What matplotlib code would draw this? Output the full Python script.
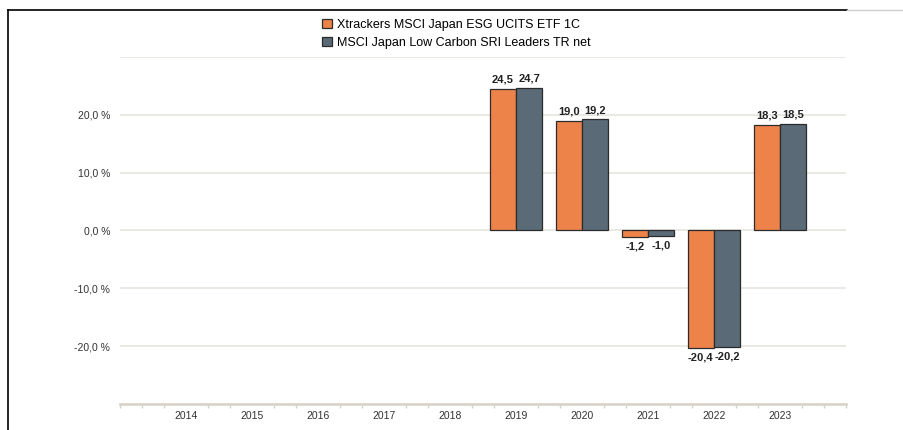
import matplotlib.pyplot as plt
import numpy as np
from matplotlib.lines import Line2D

plt.rcParams['font.family'] = ['Liberation Sans', 'DejaVu Sans']

# Дані
years = [2014, 2015, 2016, 2017, 2018, 2019, 2020, 2021, 2022, 2023]
etf = [None, None, None, None, None, 24.5, 19.0, -1.2, -20.4, 18.3]
index = [None, None, None, None, None, 24.7, 19.2, -1.0, -20.2, 18.5]
names = ['Xtrackers MSCI Japan ESG UCITS ETF 1C',
         'MSCI Japan Low Carbon SRI Leaders TR net']
colors = ['#EE834A', '#5A6A77']

fig = plt.figure(figsize=(9.04, 4.30), dpi=100)
ax = fig.add_axes([120 / 904, 1 - 404 / 430, 726 / 904, 347 / 430])

w = 0.4
for k, (vals, col, name) in enumerate(zip([etf, index], colors, names)):
    xs = [y + (k - 0.5) * w for y, v in zip(years, vals) if v is not None]
    vs = [v for v in vals if v is not None]
    ax.bar(xs, vs, width=w, color=col, edgecolor='#2b2b2b', linewidth=0.9,
           label=name, zorder=3)
    for x, v in zip(xs, vs):
        lbl = f'{v:.1f}'.replace('.', ',')
        if v >= 0:
            ax.text(x, v + 0.7, lbl, ha='center', va='bottom', fontsize=8,
                    fontweight='bold', color='#222222')
        else:
            ax.text(x, v - 0.7, lbl, ha='center', va='top', fontsize=8,
                    fontweight='bold', color='#222222')

# Осі
ax.set_xlim(2013, 2024)
ax.set_ylim(-30, 30)
yt = [-20, -10, 0, 10, 20]
ax.set_yticks(yt)
ax.set_yticklabels([f'{t:.1f} %'.replace('.', ',') for t in yt],
                   fontsize=7.5, color='#333333')
ax.tick_params(axis='y', length=0, pad=7)
for g in [-20, -10, 0, 10, 20, 30]:
    ax.axhline(g, color='#E6E4DE', linewidth=1.2, zorder=1)

ax.set_xticks(years)
ax.set_xticklabels([str(y) for y in years], fontsize=7.5, color='#333333')
ax.tick_params(axis='x', length=0, pad=5)
minor = [t for t in np.arange(2013, 2024.01, 1 / 3)
         if min(abs(t - y) for y in years) > 0.1]
ax.set_xticks(minor, minor=True)
ax.tick_params(axis='x', which='minor', length=3, color='#D6D2C8', width=1)

for s in ['top', 'right', 'left']:
    ax.spines[s].set_visible(False)
ax.spines['bottom'].set_color('#D9D5CB')
ax.spines['bottom'].set_linewidth(2)

fig.legend(loc='upper left', bbox_to_anchor=(311 / 904, 1 - 8 / 430),
           frameon=False, fontsize=9, handlelength=0.75, handleheight=0.75,
           handletextpad=0.4, labelspacing=0.45)

# Рамка
fig.add_artist(Line2D([8 / 904, 847 / 904], [1 - 10 / 430, 1 - 10 / 430],
                      color='black', linewidth=1.2))
fig.add_artist(Line2D([847 / 904, 1], [1 - 10 / 430, 1 - 10 / 430],
                      color='#D0D0D0', linewidth=1))
fig.add_artist(Line2D([8 / 904, 8 / 904], [0, 1 - 10 / 430],
                      color='black', linewidth=1.2))

fig.savefig('out.png', dpi=100)
